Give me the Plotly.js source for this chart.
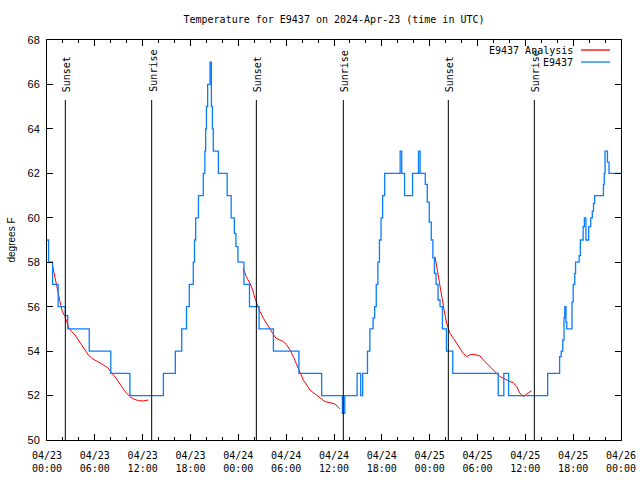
<!DOCTYPE html>
<html>
<head>
<meta charset="utf-8">
<script src="https://cdn.plot.ly/plotly-3.0.1.min.js"></script>
<style>html,body{margin:0;padding:0;background:#fff;}#chart{width:640px;height:480px;}</style>
</head>
<body>
<div id="chart"></div>
<script>
// Hours since 2024-04-23 00:00 UTC
const blueHours = [0.0,0.2,0.7,1.4,2.3,2.6,5.3,8.0,10.4,14.6,16.1,16.9,17.5,17.85,18.35,18.5,18.65,19.0,19.6,19.8,19.9,20.0,20.15,20.45,20.62,20.75,20.86,21.5,22.6,23.1,23.5,23.7,23.95,24.7,25.4,26.6,28.4,31.6,34.45,37.05,37.35,38.9,39.35,39.6,40.2,40.5,40.9,41.1,41.3,41.5,41.7,41.9,42.1,42.35,44.3,44.5,44.85,45.85,46.6,46.8,47.45,47.7,47.95,48.2,48.4,48.6,48.8,49.05,49.3,49.6,50.1,50.9,56.6,57.3,57.9,62.8,64.3,64.5,64.7,64.85,64.95,65.1,65.2,65.85,66.0,66.2,66.3,66.75,66.9,67.25,67.4,67.6,67.95,68.2,68.4,68.55,68.7,69.8,69.9,70.0,70.3,70.5,72.0];
const blueTemps = [59,58,57,56,55.6,55,54,53,52,53,54,55,56,57,58,59,60,61,62,63,64,65,66,67,65,64,63,62,61,60,59.3,58.7,58,57,56,55,54,53,52,51.2,52,53,52,53,54,55,55.5,56,57,58,59,60,61,62,63,62,61,62,63,62,61.5,60.7,59.8,59,58.2,57.5,57,56.3,56,55,54,53,52,53,52,53,53.75,54,54.5,55.5,56,55.3,55,56.2,57,57.5,58,58.3,59,59.6,60,59,59.6,60,60.3,60.65,61,61.5,62,63,62.5,62,62];

const red1Hours = [0.67,0.92,1.09,1.34,1.63,1.92,2.26,2.47,2.76,3.09,3.51,3.93,4.35,4.77,5.19,5.6,6.02,6.44,7.07,7.69,8.11,8.53,8.95,9.37,9.79,10.41,10.83,11.46,12.08,12.71];
const red1Temps = [57.9,57.43,57.13,56.68,56.23,55.78,55.55,55.33,55.03,54.88,54.73,54.5,54.28,54.05,53.83,53.68,53.6,53.52,53.38,53.23,53.0,52.85,52.63,52.4,52.18,51.95,51.85,51.77,51.76,51.8];
const red2Hours = [24.62,25.0,25.46,25.8,26.09,26.38,26.72,27.14,27.55,27.97,28.31,28.72,29.22,29.64,30.06,30.48,30.9,31.32,31.73,32.15,32.57,32.99,33.62,34.24,34.87,35.5,36.13,36.75];
const red2Temps = [57.73,57.35,57.05,56.75,56.38,56.08,55.78,55.48,55.22,54.98,54.8,54.58,54.5,54.43,54.28,54.05,53.75,53.38,53.0,52.7,52.48,52.25,52.07,51.88,51.73,51.68,51.62,51.4];
const red3Hours = [48.67,48.88,49.09,49.3,49.51,49.72,49.93,50.13,50.34,50.55,50.97,51.39,51.81,52.22,52.64,53.06,53.48,53.9,54.32,54.73,55.15,55.57,55.99,56.41,56.82,57.24,57.66,58.08,58.5,58.92,59.33,59.75,60.17,60.8];
const red3Temps = [58.25,57.8,57.2,56.9,56.5,56.0,55.6,55.25,55.05,54.8,54.58,54.35,54.13,53.9,53.75,53.83,53.86,53.83,53.78,53.6,53.45,53.3,53.18,53.03,52.85,52.78,52.7,52.63,52.58,52.4,52.1,51.95,52.07,52.22];

const sunsetHours = [2.3, 26.26, 50.34];
const sunriseHours = [13.13, 37.17, 61.13];

const titleText = 'Temperature for E9437 on 2024-Apr-23 (time in UTC)';
const seriesNames = ['E9437 Analysis', 'E9437'];

const BASE = Date.UTC(2024, 3, 23);
function toDate(h) {
  return new Date(BASE + Math.round(h * 3600000)).toISOString().replace('T', ' ').replace('Z', '');
}

const RED = '#ff0000';
const BLUE = '#0a7cff';
const MONO = 'DejaVu Sans Mono';
const SANS = 'Liberation Sans';

const traces = [];
[[red1Hours, red1Temps], [red2Hours, red2Temps], [red3Hours, red3Temps]].forEach(function (s) {
  traces.push({
    x: s[0].map(toDate), y: s[1], type: 'scatter', mode: 'lines',
    line: {color: RED, width: 1}, showlegend: false, hoverinfo: 'skip'
  });
});
traces.push({
  x: blueHours.map(toDate), y: blueTemps, type: 'scatter', mode: 'lines',
  line: {color: BLUE, width: 1.3, shape: 'hv'}, showlegend: false, hoverinfo: 'skip'
});

const LINE_TOP = 65.3;
const shapes = [];
const annotations = [];
function addEvent(h, label) {
  shapes.push({type: 'line', xref: 'x', yref: 'y', x0: toDate(h), x1: toDate(h), y0: 50, y1: LINE_TOP,
    line: {color: '#000', width: 1}});
  annotations.push({xref: 'x', yref: 'y', x: toDate(h), y: LINE_TOP, text: label, textangle: -90,
    showarrow: false, xanchor: 'center', yanchor: 'bottom', yshift: 6, xshift: 1,
    font: {family: MONO, size: 10, color: '#000'}});
}
sunsetHours.forEach(function (h) { addEvent(h, 'Sunset'); });
sunriseHours.forEach(function (h) { addEvent(h, 'Sunrise'); });

// legend (text left, sample right as in reference)
const legRows = [[0.975, RED], [0.945, BLUE]];
legRows.forEach(function (r, i) {
  annotations.push({xref: 'paper', yref: 'paper', x: 0.9199, y: r[0], text: seriesNames[i],
    showarrow: false, xanchor: 'right', yanchor: 'middle', font: {family: MONO, size: 10, color: '#000'}});
  shapes.push({type: 'line', xref: 'paper', yref: 'paper', x0: 0.9303, x1: 0.9808, y0: r[0], y1: r[0],
    line: {color: r[1], width: 1.3}});
});

const layout = {
  width: 640, height: 480,
  margin: {l: 47, r: 19, t: 40, b: 40},
  paper_bgcolor: '#fff', plot_bgcolor: '#fff',
  showlegend: false,
  title: {text: titleText, font: {family: MONO, size: 10, color: '#000'},
    xref: 'paper', x: 0.5, xanchor: 'center', yref: 'container', y: 1 - 19 / 480, yanchor: 'middle'},
  xaxis: {
    type: 'date', range: [toDate(0), toDate(72)],
    tick0: toDate(0), dtick: 6 * 3600000, tickformat: '%m/%d<br>%H:%M',
    ticks: 'inside', ticklen: 6, tickcolor: '#000', tickwidth: 1,
    showline: true, linecolor: '#000', linewidth: 1, mirror: 'allticks',
    showgrid: false, zeroline: false,
    minor: {dtick: 2 * 3600000, ticks: 'inside', ticklen: 3, tickcolor: '#000', showgrid: false},
    tickfont: {family: MONO, size: 10, color: '#000'},
    ticklabelstandoff: 6
  },
  yaxis: {
    range: [50, 68], dtick: 2, tick0: 50,
    ticks: 'inside', ticklen: 6, tickcolor: '#000', tickwidth: 1,
    showline: true, linecolor: '#000', linewidth: 1, mirror: 'allticks',
    showgrid: false, zeroline: false,
    tickfont: {family: SANS, size: 11, color: '#000'},
    ticklabelstandoff: 4,
    title: {text: 'degrees F', font: {family: SANS, size: 10, color: '#000'}, standoff: 10}
  },
  shapes: shapes,
  annotations: annotations
};

Plotly.newPlot('chart', traces, layout, {staticPlot: true, displayModeBar: false});
</script>
</body>
</html>
